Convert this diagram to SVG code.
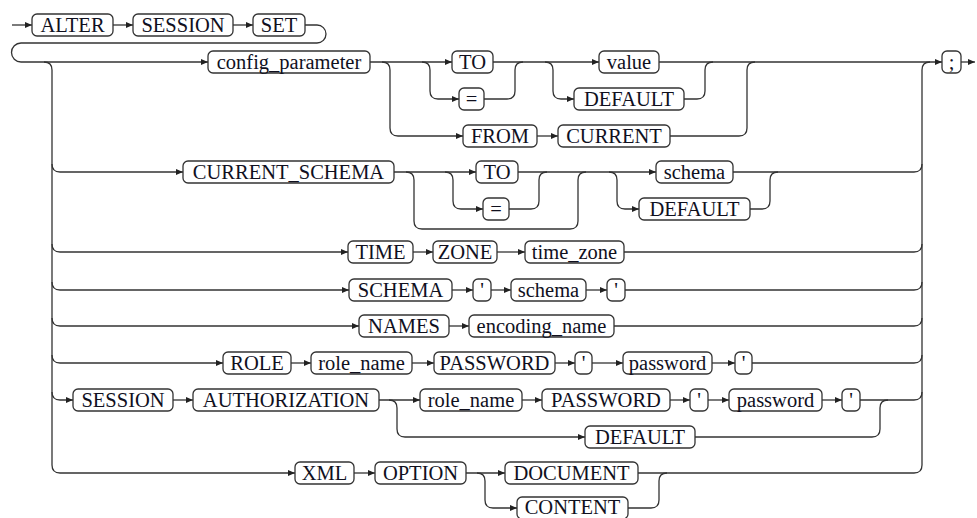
<svg xmlns="http://www.w3.org/2000/svg" width="977" height="518" viewBox="0 0 977 518">
<defs>
<marker id="a" markerWidth="8" markerHeight="8" refX="7" refY="3" orient="auto" markerUnits="userSpaceOnUse"><path d="M0,0 L7,3 L0,6 z" fill="#222"/></marker>
<style>
rect{fill:#fff;stroke:#333;stroke-width:1.3}
text{font-size:20.5px;text-anchor:middle;fill:#10101e}
#conn path{fill:none;stroke:#333;stroke-width:1.3}
#conn path.a{marker-end:url(#a)}
</style>
</defs>
<rect x="0" y="0" width="977" height="518" style="fill:#fff;stroke:none"/>
<g id="conn">
<path class="a" d="M12,25 L32,25"/>
<path class="a" d="M113,25 L133,25"/>
<path class="a" d="M233,25 L253,25"/>
<path class="a" d="M305,25 L317,25 A9,9 0 0 1 317,43 L21,43 A9.5,9.5 0 0 0 21,62 L208,62"/>
<path class="a" d="M44,62 Q52,62 52,70 L52,465 Q52,473 60,473 L295,473"/>
<path class="a" d="M52,164 Q52,172 60,172 L183,172"/>
<path class="a" d="M52,244 Q52,252 60,252 L348,252"/>
<path class="a" d="M52,282 Q52,290 60,290 L349,290"/>
<path class="a" d="M52,318 Q52,326 60,326 L359,326"/>
<path class="a" d="M52,355 Q52,363 60,363 L223,363"/>
<path class="a" d="M52,392 Q52,400 60,400 L73,400"/>
<path class="a" d="M370,62 L452,62"/>
<path class="a" d="M493,62 L599,62"/>
<path class="a" d="M659,62 L942,62"/>
<path class="a" d="M961,62 L975,62"/>
<path class="a" d="M382,62 Q390,62 390,70 L390,128 Q390,136 398,136 L463,136"/>
<path class="a" d="M537,136 L558,136"/>
<path d="M670,136 L739,136 Q747,136 747,128 L747,70 Q747,62 755,62"/>
<path class="a" d="M422,62 Q430,62 430,70 L430,91 Q430,99 438,99 L459,99"/>
<path d="M484,99 L507,99 Q515,99 515,91 L515,70 Q515,62 523,62"/>
<path class="a" d="M545,62 Q553,62 553,70 L553,91 Q553,99 561,99 L574,99"/>
<path d="M684,99 L697,99 Q705,99 705,91 L705,70 Q705,62 713,62"/>
<path d="M914,473 Q922,473 922,465 L922,70 Q922,62 930,62"/>
<path class="a" d="M394,172 L476,172"/>
<path class="a" d="M518,172 L656,172"/>
<path d="M733,172 L914,172 Q922,172 922,164"/>
<path d="M406,172 Q414,172 414,180 L414,221 Q414,229 422,229 L570,229 Q578,229 578,221 L578,180 Q578,172 586,172"/>
<path class="a" d="M445,172 Q453,172 453,180 L453,201 Q453,209 461,209 L483,209"/>
<path d="M509,209 L531,209 Q539,209 539,201 L539,180 Q539,172 547,172"/>
<path class="a" d="M609,172 Q617,172 617,180 L617,201 Q617,209 625,209 L639,209"/>
<path d="M750,209 L762,209 Q770,209 770,201 L770,180 Q770,172 778,172"/>
<path class="a" d="M413,252 L433,252"/>
<path class="a" d="M497,252 L525,252"/>
<path d="M624,252 L914,252 Q922,252 922,244"/>
<path class="a" d="M452,290 L473,290"/>
<path class="a" d="M491,290 L511,290"/>
<path class="a" d="M586,290 L607,290"/>
<path d="M625,290 L914,290 Q922,290 922,282"/>
<path class="a" d="M449,326 L469,326"/>
<path d="M614,326 L914,326 Q922,326 922,318"/>
<path class="a" d="M291,363 L311,363"/>
<path class="a" d="M412,363 L434,363"/>
<path class="a" d="M555,363 L575,363"/>
<path class="a" d="M592,363 L623,363"/>
<path class="a" d="M712,363 L735,363"/>
<path d="M752,363 L914,363 Q922,363 922,355"/>
<path class="a" d="M173,400 L193,400"/>
<path class="a" d="M379,400 L420,400"/>
<path class="a" d="M522,400 L542,400"/>
<path class="a" d="M670,400 L690,400"/>
<path class="a" d="M708,400 L729,400"/>
<path class="a" d="M822,400 L842,400"/>
<path d="M860,400 L914,400 Q922,400 922,392"/>
<path class="a" d="M389,400 Q397,400 397,408 L397,429 Q397,437 405,437 L585,437"/>
<path d="M695,437 L872,437 Q880,437 880,429 L880,408 Q880,400 888,400"/>
<path class="a" d="M354,473 L375,473"/>
<path class="a" d="M466,473 L505,473"/>
<path d="M638,473 L914,473"/>
<path class="a" d="M477,473 Q485,473 485,481 L485,500 Q485,508 493,508 L517,508"/>
<path d="M628,508 L651,508 Q659,508 659,500 L659,481 Q659,473 667,473"/>
</g>
<g id="nodes" font-family="'Liberation Serif', 'Times New Roman', Times, serif">
<g id="n_alter"><rect x="32" y="14" width="81" height="22" rx="5"/><text x="72.5" y="32">ALTER</text></g>
<g id="n_session"><rect x="133" y="14" width="100" height="22" rx="5"/><text x="183" y="32">SESSION</text></g>
<g id="n_set"><rect x="253" y="14" width="52" height="22" rx="5"/><text x="279" y="32">SET</text></g>
<g id="n_config"><rect x="208" y="51" width="162" height="22" rx="5"/><text x="289" y="69">config_parameter</text></g>
<g id="n_to1"><rect x="452" y="51" width="41" height="22" rx="5"/><text x="472.5" y="69">TO</text></g>
<g id="n_eq1"><rect x="459" y="88" width="25" height="22" rx="5"/><text x="471.5" y="106">=</text></g>
<g id="n_value"><rect x="599" y="51" width="60" height="22" rx="5"/><text x="629" y="69">value</text></g>
<g id="n_default1"><rect x="574" y="88" width="110" height="22" rx="5"/><text x="629" y="106">DEFAULT</text></g>
<g id="n_from"><rect x="463" y="125" width="74" height="22" rx="5"/><text x="500" y="143">FROM</text></g>
<g id="n_current"><rect x="558" y="125" width="112" height="22" rx="5"/><text x="614" y="143">CURRENT</text></g>
<g id="n_semi"><rect x="942" y="51" width="19" height="22" rx="5"/><text x="951.5" y="69">;</text></g>
<g id="n_current_schema"><rect x="183" y="161" width="211" height="22" rx="5"/><text x="288.5" y="179">CURRENT_SCHEMA</text></g>
<g id="n_to2"><rect x="476" y="161" width="42" height="22" rx="5"/><text x="497" y="179">TO</text></g>
<g id="n_eq2"><rect x="483" y="198" width="26" height="22" rx="5"/><text x="496" y="216">=</text></g>
<g id="n_schema1"><rect x="656" y="161" width="77" height="22" rx="5"/><text x="694.5" y="179">schema</text></g>
<g id="n_default2"><rect x="639" y="198" width="111" height="22" rx="5"/><text x="694.5" y="216">DEFAULT</text></g>
<g id="n_time"><rect x="348" y="241" width="65" height="22" rx="5"/><text x="380.5" y="259">TIME</text></g>
<g id="n_zone"><rect x="433" y="241" width="64" height="22" rx="5"/><text x="465" y="259">ZONE</text></g>
<g id="n_time_zone"><rect x="525" y="241" width="99" height="22" rx="5"/><text x="574.5" y="259">time_zone</text></g>
<g id="n_schema_kw"><rect x="349" y="279" width="103" height="22" rx="5"/><text x="400.5" y="297">SCHEMA</text></g>
<g id="n_q1"><rect x="473" y="279" width="18" height="22" rx="5"/><text x="482" y="297">'</text></g>
<g id="n_schema2"><rect x="511" y="279" width="75" height="22" rx="5"/><text x="548.5" y="297">schema</text></g>
<g id="n_q2"><rect x="607" y="279" width="18" height="22" rx="5"/><text x="616" y="297">'</text></g>
<g id="n_names"><rect x="359" y="315" width="90" height="22" rx="5"/><text x="404" y="333">NAMES</text></g>
<g id="n_encoding"><rect x="469" y="315" width="145" height="22" rx="5"/><text x="541.5" y="333">encoding_name</text></g>
<g id="n_role"><rect x="223" y="352" width="68" height="22" rx="5"/><text x="257" y="370">ROLE</text></g>
<g id="n_role_name1"><rect x="311" y="352" width="101" height="22" rx="5"/><text x="361.5" y="370">role_name</text></g>
<g id="n_password_kw1"><rect x="434" y="352" width="121" height="22" rx="5"/><text x="494.5" y="370">PASSWORD</text></g>
<g id="n_q3"><rect x="575" y="352" width="17" height="22" rx="5"/><text x="583.5" y="370">'</text></g>
<g id="n_password1"><rect x="623" y="352" width="89" height="22" rx="5"/><text x="667.5" y="370">password</text></g>
<g id="n_q4"><rect x="735" y="352" width="17" height="22" rx="5"/><text x="743.5" y="370">'</text></g>
<g id="n_session2"><rect x="73" y="389" width="100" height="22" rx="5"/><text x="123" y="407">SESSION</text></g>
<g id="n_authorization"><rect x="193" y="389" width="186" height="22" rx="5"/><text x="286" y="407">AUTHORIZATION</text></g>
<g id="n_role_name2"><rect x="420" y="389" width="102" height="22" rx="5"/><text x="471" y="407">role_name</text></g>
<g id="n_password_kw2"><rect x="542" y="389" width="128" height="22" rx="5"/><text x="606" y="407">PASSWORD</text></g>
<g id="n_q5"><rect x="690" y="389" width="18" height="22" rx="5"/><text x="699" y="407">'</text></g>
<g id="n_password2"><rect x="729" y="389" width="93" height="22" rx="5"/><text x="775.5" y="407">password</text></g>
<g id="n_q6"><rect x="842" y="389" width="18" height="22" rx="5"/><text x="851" y="407">'</text></g>
<g id="n_default3"><rect x="585" y="426" width="110" height="22" rx="5"/><text x="640" y="444">DEFAULT</text></g>
<g id="n_xml"><rect x="295" y="462" width="59" height="22" rx="5"/><text x="324.5" y="480">XML</text></g>
<g id="n_option"><rect x="375" y="462" width="91" height="22" rx="5"/><text x="420.5" y="480">OPTION</text></g>
<g id="n_document"><rect x="505" y="462" width="133" height="22" rx="5"/><text x="571.5" y="480">DOCUMENT</text></g>
<g id="n_content"><rect x="517" y="497" width="111" height="22" rx="5"/><text x="572.5" y="514">CONTENT</text></g>
</g>
</svg>
